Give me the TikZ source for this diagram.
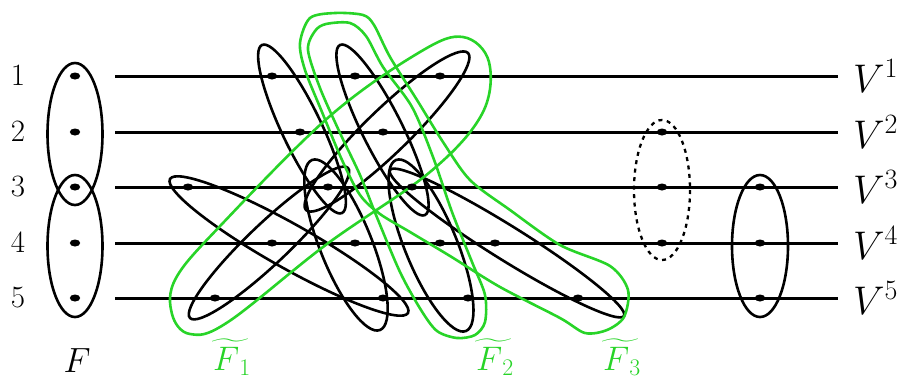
\RequirePackage{fix-cm}
\documentclass[tikz,border=0pt]{standalone}
\usepackage{exscale}
\definecolor{hgreen}{RGB}{40,212,40}
\newcommand\HyperE[6][]{%
  \pgfmathsetmacro\hcx{(#2+#4)/2}%
  \pgfmathsetmacro\hcy{(#3+#5)/2}%
  \pgfmathsetmacro\hang{atan2(-(#5-#3),#4-#2)}%
  \pgfmathsetmacro\hlen{veclen(#4-#2,#5-#3)/2}%
  \draw[hyper,#1,shift={(\hcx,\hcy)},rotate=\hang] (0,0) ellipse [x radius=\hlen, y radius=#6];}
\newcommand\VDot[2]{\fill (#1,#2) ellipse [x radius=5.2, y radius=3.5];}
\newcommand\TildeF[1]{\widetilde{\mkern1mu F\mkern6mu}\mkern-6mu_{#1}}
\begin{document}
\begin{tikzpicture}[x=1pt,y=-1pt,
  vline/.style={line width=3pt},
  hyper/.style={line width=2.6pt},
  ghyper/.style={line width=2.6pt, draw=hgreen},
  numlab/.style={anchor=base, inner sep=0pt, font=\fontsize{31}{36}\selectfont},
  vlab/.style={anchor=base west, inner sep=0pt, font=\fontsize{40}{46}\selectfont},
  flab/.style={anchor=base, inner sep=0pt, font=\fontsize{35}{40}\selectfont},
  glab/.style={anchor=base west, inner sep=0pt, text=hgreen, font=\fontsize{34}{40}\selectfont}]
\path[use as bounding box] (0,0) rectangle (899,381);

% horizontal lines
\foreach \r/\yy in {1/76,2/132,3/187,4/243,5/298}{
  \coordinate (L\r) at (115,\yy);
  \coordinate (R\r) at (838,\yy);
  \draw[vline] (L\r) -- (R\r);
  \node[numlab] (n\r) at (18,\yy+9) {\r};
  \node[vlab] (v\r) at (853,\yy+16) {$V^{\r}$};
}

% F on the left
\draw[hyper] (75,134) ellipse [x radius=27.5, y radius=71];
\draw[hyper] (75,246) ellipse [x radius=27.5, y radius=71];
\node[flab] (Flab) at (77,372) {$F$};

% right ellipses
\draw[hyper, line width=2.3pt, dash pattern=on 4pt off 4.5pt] (662,190) ellipse [x radius=28, y radius=70];
\draw[hyper] (760,246) ellipse [x radius=28, y radius=71];

% black hyperedges
\HyperE{262}{45}{342}{213}{20}
\HyperE{340}{45}{425}{215}{20}
\HyperE{306}{210}{468}{53}{22}
\HyperE{170}{179}{408}{313}{22}
\HyperE{190}{318}{348}{168}{20}
\HyperE{312}{160}{380}{330}{26}
\HyperE{396}{160}{466}{331}{26}
\HyperE{390}{170}{624}{316}{17}

% green hyperedges
\draw[ghyper] plot[smooth cycle, tension=0.6] coordinates {(172,314) (190,334) (228,322) (327,244) (430,172) (482,114) (489,62) (463,37) (420,52) (330,116) (222,224) (176,278)};
\draw[ghyper] plot[smooth cycle] coordinates {(308,50) (315,31) (326,24) (350,23) (366,36) (383,67) (412,107) (433,157) (452,212) (472,262) (485,295) (485,322) (475,335) (457,338) (437,331) (421,310) (400,272) (376,215) (360,175) (340,133) (320,88)};
\draw[ghyper] plot[smooth cycle] coordinates {(300,43) (310,18) (335,13) (363,15) (374,25) (390,57) (417,100) (443,142) (470,180) (510,210) (560,245) (610,266) (628,290) (624,317) (607,330) (585,333) (560,318) (500,287) (450,256) (410,232) (380,214) (360,195) (342,160) (322,112) (305,70)};

\node[glab] (g1) at (211,370) {$\TildeF{1}$};
\node[glab] (g2) at (474,370) {$\TildeF{2}$};
\node[glab] (g3) at (601,370) {$\TildeF{3}$};

% vertices
\foreach \yy in {76,132,187,243,298}{\VDot{75}{\yy}}
\foreach \xx in {272,355,440}{\VDot{\xx}{76}}
\foreach \xx in {300,383}{\VDot{\xx}{132}}
\foreach \xx in {188,328,412}{\VDot{\xx}{187}}
\foreach \xx in {272,355,440,495}{\VDot{\xx}{243}}
\foreach \xx in {215,383,468,578}{\VDot{\xx}{298}}
\foreach \yy in {132,187,243}{\VDot{662}{\yy}}
\foreach \yy in {187,243,298}{\VDot{760}{\yy}}
\end{tikzpicture}
\end{document}
